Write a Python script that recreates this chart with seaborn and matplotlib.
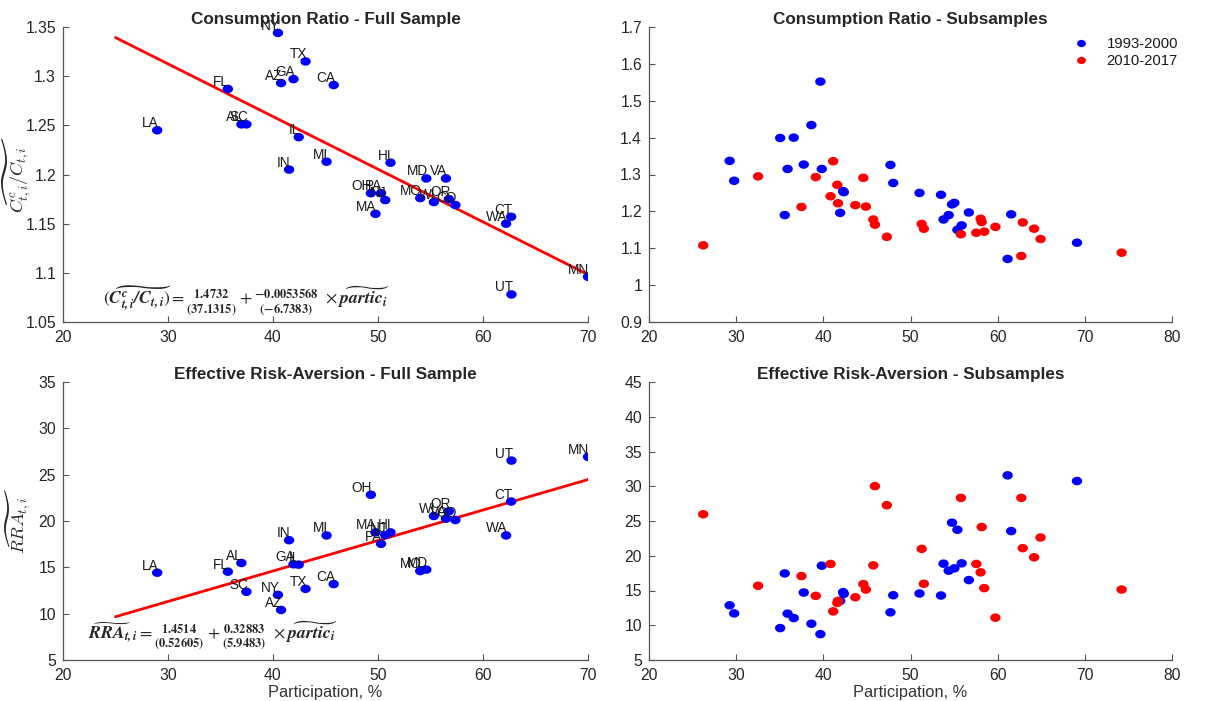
import matplotlib
matplotlib.use("Agg")
import matplotlib.pyplot as plt
import seaborn as sns
import pandas as pd
import numpy as np
from matplotlib.path import Path
from matplotlib.markers import MarkerStyle
from matplotlib.font_manager import FontProperties
from matplotlib.mathtext import MathTextParser

# ---------------- data ----------------
states = ["NY", "TX", "GA", "AZ", "CA", "FL", "LA", "AL", "SC", "IL", "IN", "MI", "HI", "MD",
          "VA", "OH", "PA", "NJ", "MA", "MO", "WI", "OR", "CO", "CT", "WA", "MN", "UT"]
partic_full = [40.47, 43.10, 41.95, 40.77, 45.78, 35.70, 28.97, 36.99, 37.47, 42.45, 41.53, 45.10,
               51.19, 54.60, 56.47, 49.32, 50.29, 50.69, 49.76, 54.02, 55.32, 56.75, 57.37, 62.68,
               62.20, 70.00, 62.71]
cr_full = [1.344, 1.315, 1.297, 1.293, 1.291, 1.287, 1.245, 1.251, 1.251, 1.238, 1.205, 1.213,
           1.212, 1.196, 1.196, 1.181, 1.181, 1.174, 1.160, 1.176, 1.172, 1.175, 1.169, 1.157,
           1.150, 1.096, 1.078]
rra_full = [12.03, 12.68, 15.33, 10.40, 13.19, 14.53, 14.42, 15.47, 12.36, 15.29, 17.93, 18.44,
            18.77, 14.75, 20.25, 22.83, 17.54, 18.48, 18.77, 14.60, 20.54, 21.05, 20.11, 22.10,
            18.44, 26.92, 26.52]

cr_fit = [1.4732, -0.0053568]     # intercept, slope
rra_fit = [1.4514, 0.32883]
fit_x = [25, 70]

partic_9300 = [29.25, 29.77, 35.05, 35.57, 35.90, 36.60, 37.75, 38.63, 39.66, 39.82, 41.93, 42.27,
               42.35, 47.70, 48.02, 51.03, 53.50, 53.79, 54.38, 54.76, 55.03, 55.38, 55.87, 56.69,
               61.14, 61.55, 69.10]
cr_9300 = [1.337, 1.283, 1.399, 1.190, 1.315, 1.400, 1.327, 1.434, 1.552, 1.315, 1.196, 1.255,
           1.252, 1.326, 1.277, 1.250, 1.245, 1.178, 1.190, 1.219, 1.223, 1.150, 1.162, 1.197,
           1.071, 1.192, 1.115]
rra_9300 = [12.87, 11.71, 9.59, 17.46, 11.67, 11.04, 14.71, 10.22, 8.72, 18.57, 13.50, 14.76,
            14.52, 11.86, 14.32, 14.57, 14.28, 18.86, 17.85, 24.76, 18.19, 23.74, 18.91, 16.50,
            31.57, 23.55, 30.75]

partic_1017 = [26.22, 32.52, 37.49, 39.13, 40.83, 41.13, 41.60, 41.68, 43.67, 44.59, 44.88, 45.73,
               45.92, 47.28, 51.28, 51.53, 55.78, 57.55, 58.04, 58.17, 58.46, 59.74, 62.71, 62.88,
               64.18, 64.92, 74.22]
cr_1017 = [1.108, 1.295, 1.212, 1.293, 1.241, 1.336, 1.272, 1.222, 1.217, 1.291, 1.213, 1.178,
           1.164, 1.131, 1.166, 1.153, 1.138, 1.142, 1.180, 1.171, 1.145, 1.158, 1.079, 1.170,
           1.153, 1.125, 1.088]
rra_1017 = [25.97, 15.68, 17.08, 14.23, 18.82, 12.00, 13.21, 13.50, 14.03, 15.92, 15.14, 18.62,
            30.02, 27.27, 20.99, 15.97, 28.33, 18.82, 17.61, 24.13, 15.34, 11.09, 28.33, 21.09,
            19.78, 22.63, 15.14]

period_labels = ["1993-2000", "2010-2017"]

titles = ["Consumption Ratio - Full Sample", "Consumption Ratio - Subsamples",
          "Effective Risk-Aversion - Full Sample", "Effective Risk-Aversion - Subsamples"]
xlabel_text = "Participation, %"

# ---------------- style ----------------
sns.set_style("ticks")
plt.rcParams["font.family"] = ["Liberation Sans", "DejaVu Sans"]
plt.rcParams["mathtext.fontset"] = "cm"
plt.rcParams["xtick.direction"] = "in"
plt.rcParams["ytick.direction"] = "in"

fig = plt.figure(figsize=(12.11, 7.01), dpi=100)
W, H = 1211, 701

def make_ax(x0, x1, ytop, ybot):
    return fig.add_axes([x0 / W, 1 - ybot / H, (x1 - x0) / W, (ybot - ytop) / H])

ax_tl = make_ax(63, 588, 27, 322)
ax_tr = make_ax(649, 1172, 27, 322)
ax_bl = make_ax(63, 588, 382, 660)
ax_br = make_ax(649, 1172, 382, 660)

# slightly wide elliptical dot, like the reference markers
th = np.linspace(0, 2 * np.pi, 41)
dot = MarkerStyle(Path(np.column_stack([1.22 * np.cos(th), np.sin(th)]), closed=True))
DOT_S = 56

spine_col = "#555555"
def fmt(v):
    return f"{v:.2f}".rstrip("0").rstrip(".")

def style_ax(ax, title, xlim, ylim, yticks, xticks):
    ax.set_xlim(*xlim)
    ax.set_ylim(*ylim)
    ax.set_yticks(yticks)
    ax.set_yticklabels([fmt(v) for v in yticks])
    ax.set_xticks(xticks)
    ax.set_title(title, fontsize=12.3, fontweight="bold", pad=2)
    for s in ["top", "right"]:
        ax.spines[s].set_visible(False)
    for s in ["left", "bottom"]:
        ax.spines[s].set_color(spine_col)
        ax.spines[s].set_linewidth(0.9)
    ax.tick_params(axis="both", colors=spine_col, labelcolor="#262626", labelsize=11.3,
                   length=4, width=0.8)
    ax.tick_params(axis="x", pad=6)
    ax.tick_params(axis="y", pad=5)
    ax.set_xlabel("")
    ax.set_ylabel("")

full = pd.DataFrame({"state": states, "partic": partic_full, "cr": cr_full, "rra": rra_full})
sub = pd.concat([
    pd.DataFrame({"partic": partic_9300, "cr": cr_9300, "rra": rra_9300, "period": period_labels[0]}),
    pd.DataFrame({"partic": partic_1017, "cr": cr_1017, "rra": rra_1017, "period": period_labels[1]}),
], ignore_index=True)
pal = {period_labels[0]: "blue", period_labels[1]: "red"}

# ---- Full sample panels ----
for ax, col, fit in [(ax_tl, "cr", cr_fit), (ax_bl, "rra", rra_fit)]:
    fx = np.array(fit_x, dtype=float)
    line_df = pd.DataFrame({"x": fx, "y": fit[0] + fit[1] * fx})
    sns.lineplot(data=line_df, x="x", y="y", ax=ax, color="red", linewidth=2)
    sns.scatterplot(data=full, x="partic", y=col, ax=ax, color="blue", s=DOT_S, marker=dot,
                    edgecolor="none", zorder=3)
    for _, r in full.iterrows():
        ax.annotate(r["state"], (r["partic"], r[col]), xytext=(1, 0), textcoords="offset points",
                    ha="right", va="bottom", fontsize=9.8, color="#1a1a1a")

style_ax(ax_tl, titles[0], (20, 70), (1.05, 1.35),
         [1.05, 1.1, 1.15, 1.2, 1.25, 1.3, 1.35], [20, 30, 40, 50, 60, 70])
style_ax(ax_bl, titles[2], (20, 70), (5, 35), [5, 10, 15, 20, 25, 30, 35],
         [20, 30, 40, 50, 60, 70])

# formula texts: bold italic if the mathtext build supports it
def pick(candidates):
    parser = MathTextParser("path")
    for s, mf in candidates:
        try:
            parser.parse(s, dpi=72, prop=FontProperties(size=10, math_fontfamily=mf))
            return s, mf
        except Exception:
            continue
    return candidates[-1]

f1_bi = (r"$(\mathbfit{\widetilde{C^c_{t,i}/C_{t,i}}}) = \genfrac{}{}{0}{}{\mathbf{1.4732}}{\mathbf{(37.1315)}}"
         r" + \genfrac{}{}{0}{}{\mathbf{-0.0053568}}{\mathbf{(-6.7383)}}\ \times \mathbfit{\widetilde{partic}_i}$")
f1_b = (r"$\mathbf{(\widetilde{C^c_{t,i}/C_{t,i}})} = \genfrac{}{}{0}{}{\mathbf{1.4732}}{\mathbf{(37.1315)}}"
        r" + \genfrac{}{}{0}{}{\mathbf{-0.0053568}}{\mathbf{(-6.7383)}}\ \times \mathbf{\widetilde{partic}_i}$")
f2_bi = (r"$\mathbfit{\widetilde{RRA}_{t,i}} = \genfrac{}{}{0}{}{\mathbf{1.4514}}{\mathbf{(0.52605)}}"
         r" + \genfrac{}{}{0}{}{\mathbf{0.32883}}{\mathbf{(5.9483)}}\ \times \mathbfit{\widetilde{partic}_i}$")
f2_b = (r"$\mathbf{\widetilde{RRA}_{t,i}} = \genfrac{}{}{0}{}{\mathbf{1.4514}}{\mathbf{(0.52605)}}"
        r" + \genfrac{}{}{0}{}{\mathbf{0.32883}}{\mathbf{(5.9483)}}\ \times \mathbf{\widetilde{partic}_i}$")

s1, m1 = pick([(f1_bi, "stix"), (f1_b, "cm")])
s2, m2 = pick([(f2_bi, "stix"), (f2_b, "cm")])
ax_tl.text(23.8, 1.072, s1, fontsize=12.8, va="center", ha="left", math_fontfamily=m1)
ax_bl.text(22.4, 7.6, s2, fontsize=12.8, va="center", ha="left", math_fontfamily=m2)

ax_tl.set_ylabel(r"$\widetilde{C^c_{t,i}/C_{t,i}}$", fontsize=13)
ax_bl.set_ylabel(r"$\widetilde{RRA_{t,i}}$", fontsize=13)
ax_tl.yaxis.set_label_coords(-0.058, 0.5)
ax_bl.yaxis.set_label_coords(-0.058, 0.5)

# ---- Subsample panels ----
sns.scatterplot(data=sub, x="partic", y="cr", hue="period", palette=pal, ax=ax_tr, s=DOT_S,
                marker=dot, edgecolor="none", zorder=3)
sns.scatterplot(data=sub, x="partic", y="rra", hue="period", palette=pal, ax=ax_br, s=DOT_S,
                marker=dot, edgecolor="none", zorder=3, legend=False)
style_ax(ax_tr, titles[1], (20, 80), (0.9, 1.7),
         [0.9, 1.0, 1.1, 1.2, 1.3, 1.4, 1.5, 1.6, 1.7], [20, 30, 40, 50, 60, 70, 80])
style_ax(ax_br, titles[3], (20, 80), (5, 45), [5, 10, 15, 20, 25, 30, 35, 40, 45],
         [20, 30, 40, 50, 60, 70, 80])

leg = ax_tr.legend(loc="upper right", bbox_to_anchor=(1.023, 0.985), frameon=False, fontsize=10.7,
                   handlelength=1.0, handletextpad=1.2, markerscale=0.85, borderaxespad=0.0,
                   labelspacing=0.2)
for t in leg.get_texts():
    t.set_color("#1a1a1a")

ax_bl.set_xlabel(xlabel_text, fontsize=11.8, color="#333333", labelpad=1)
ax_br.set_xlabel(xlabel_text, fontsize=11.8, color="#333333", labelpad=1)

fig.savefig("out.png", dpi=100)
